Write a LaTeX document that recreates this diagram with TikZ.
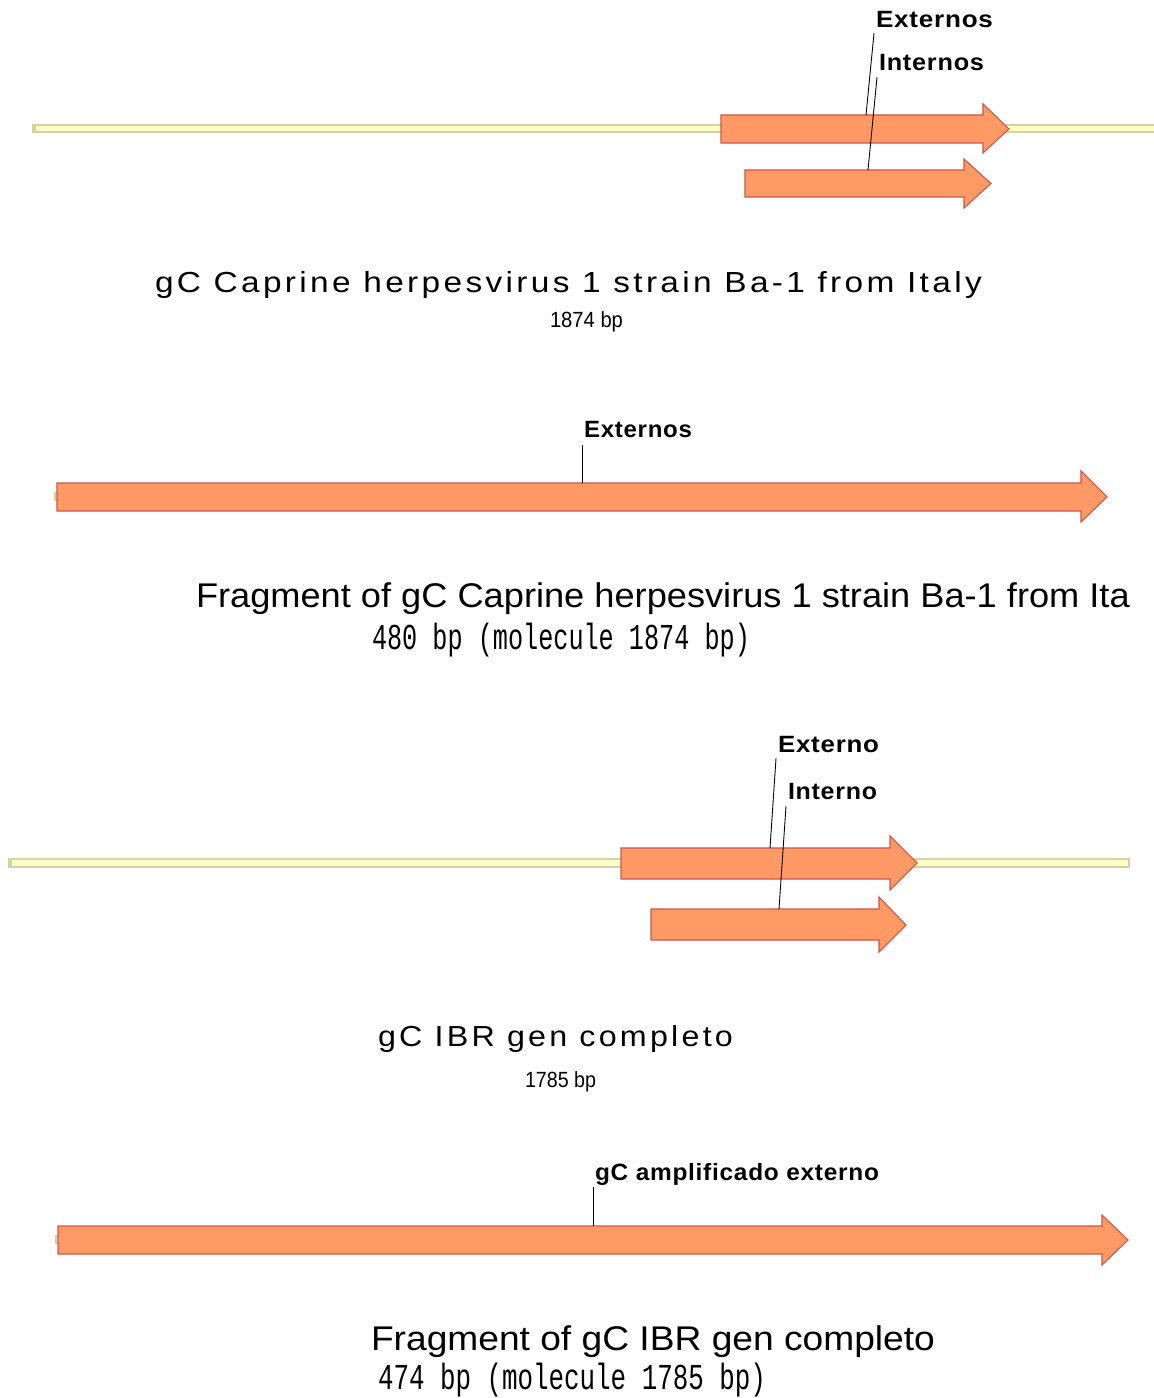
\documentclass[tikz,border=0pt]{standalone}
\usepackage{fontspec}
\usepackage{graphicx}
\setmainfont{Liberation Sans}
\newfontfamily\lblfont[LetterSpace=3]{Liberation Sans}
\newfontfamily\spfont[LetterSpace=10]{Liberation Sans}
\newfontfamily\nfont{Liberation Sans}
\newfontfamily\mfont{Liberation Mono}
\newcommand\fitw[2]{\resizebox{#1}{\height}{#2}}
\newcommand\fitwh[3]{\resizebox*{#1}{#2}{#3}}
\definecolor{arrfill}{HTML}{FF9966}
\definecolor{arrdraw}{HTML}{C8584A}
\definecolor{bbfill}{HTML}{FFFDC8}
\definecolor{bbdraw}{HTML}{D6D3A3}
\tikzset{
  gene/.style={draw=arrdraw, fill=arrfill, line width=0.6pt, line join=miter},
  backbone/.style={draw=bbdraw, fill=bbfill, line width=0.6pt},
  bbcap/.style={fill=bbdraw},
  leader/.style={draw=black, line width=0.5pt},
  txt/.style={inner sep=0pt, outer sep=0pt, anchor=base west},
  txtc/.style={inner sep=0pt, outer sep=0pt, anchor=west},
}
\begin{document}
\begin{tikzpicture}[x=0.02cm, y=-0.02cm]
\fill[white] (0,0) rectangle (1153,1398);
\useasboundingbox (0,0) rectangle (1153,1398);

% ---------------- Section 1 ----------------
\draw[backbone] (33,125) rectangle (1160,132);
\fill[bbcap] (33,125) rectangle (36,132);
\draw[gene] (721,115) -- (983,115) -- (983,104) -- (1009,129) -- (983,153) -- (983,143) -- (721,143) -- cycle;
\draw[gene] (745,170) -- (964,170) -- (964,159) -- (991,183.5) -- (964,208) -- (964,197) -- (745,197) -- cycle;
\coordinate (s1a1) at (866,115);
\coordinate (s1a2) at (868,170);
\node[txt] (s1ext) at (876,28) {\fitw{2.34cm}{\lblfont\bfseries\fontsize{13.4pt}{15pt}\selectfont Externos}};
\node[txt] (s1int) at (879,71) {\fitw{2.10cm}{\lblfont\bfseries\fontsize{13.4pt}{15pt}\selectfont Internos}};
\draw[leader] ([shift={(-2,5)}]s1ext.south west) -- (s1a1);
\draw[leader] ([shift={(-2,6)}]s1int.south west) -- (s1a2);
\node[txt] (s1title) at (155,293) {\fitw{16.54cm}{\spfont\fontsize{16.5pt}{18pt}\selectfont gC Caprine herpesvirus 1 strain Ba-1 from Italy}};
\node[txt] (s1bp) at (550,328) {\fitw{1.46cm}{\nfont\fontsize{12.5pt}{14pt}\selectfont 1874 bp}};

% ---------------- Section 2 ----------------
\draw[backbone] (55,493) rectangle (1095,500);
\draw[gene] (57,483) -- (1081,483) -- (1081,471) -- (1107,497) -- (1081,522) -- (1081,511) -- (57,511) -- cycle;
\coordinate (s2a1) at (582,483);
\node[txt] (s2ext) at (584,438) {\fitw{2.16cm}{\lblfont\bfseries\fontsize{13.4pt}{15pt}\selectfont Externos}};
\draw[leader] (s2ext.south west -| s2a1) ++(0,7) -- (s2a1);
\node[txt] (s2title) at (196,607) {\fitw{18.68cm}{\nfont\fontsize{19.5pt}{22pt}\selectfont Fragment of gC Caprine herpesvirus 1 strain Ba-1 from Ita}};
\node[txtc] (s2bp) at (372,640) {\fitwh{7.56cm}{0.68cm}{\mfont\fontsize{15pt}{18pt}\selectfont 480 bp (molecule 1874 bp)}};

% ---------------- Section 3 ----------------
\draw[backbone] (9,859) rectangle (1129,867);
\fill[bbcap] (9,859) rectangle (12,867);
\draw[gene] (621,848) -- (890,848) -- (890,836) -- (917,863) -- (890,890) -- (890,879) -- (621,879) -- cycle;
\draw[gene] (651,909) -- (879,909) -- (879,897) -- (906,925) -- (879,952) -- (879,940) -- (651,940) -- cycle;
\coordinate (s3a1) at (770,848);
\coordinate (s3a2) at (779,909);
\node[txt] (s3ext) at (778,752) {\fitw{2.02cm}{\lblfont\bfseries\fontsize{13.4pt}{15pt}\selectfont Externo}};
\node[txt] (s3int) at (788,799) {\fitw{1.78cm}{\lblfont\bfseries\fontsize{13.4pt}{15pt}\selectfont Interno}};
\draw[leader] ([shift={(-2,6)}]s3ext.south west) -- (s3a1);
\draw[leader] ([shift={(-2,7)}]s3int.south west) -- (s3a2);
\node[txt] (s3title) at (378,1046) {\fitw{7.10cm}{\spfont\fontsize{16.5pt}{18pt}\selectfont gC IBR gen completo}};
\node[txt] (s3bp) at (525,1087) {\fitw{1.42cm}{\nfont\fontsize{12.5pt}{14pt}\selectfont 1785 bp}};

% ---------------- Section 4 ----------------
\draw[backbone] (56,1236) rectangle (1115,1243);
\draw[gene] (58,1226) -- (1102,1226) -- (1102,1215) -- (1128,1240) -- (1102,1265) -- (1102,1254) -- (58,1254) -- cycle;
\coordinate (s4a1) at (593,1226);
\node[txt] (s4lbl) at (595,1180) {\fitw{5.68cm}{\lblfont\bfseries\fontsize{13.4pt}{15pt}\selectfont gC amplificado externo}};
\draw[leader] (s4lbl.base west -| s4a1) ++(0,7) -- (s4a1);
\node[txt] (s4title) at (371,1350) {\fitw{11.28cm}{\nfont\fontsize{19.5pt}{22pt}\selectfont Fragment of gC IBR gen completo}};
\node[txtc] (s4bp) at (378,1380) {\fitwh{7.76cm}{0.68cm}{\mfont\fontsize{15pt}{18pt}\selectfont 474 bp (molecule 1785 bp)}};
\end{tikzpicture}
\end{document}
